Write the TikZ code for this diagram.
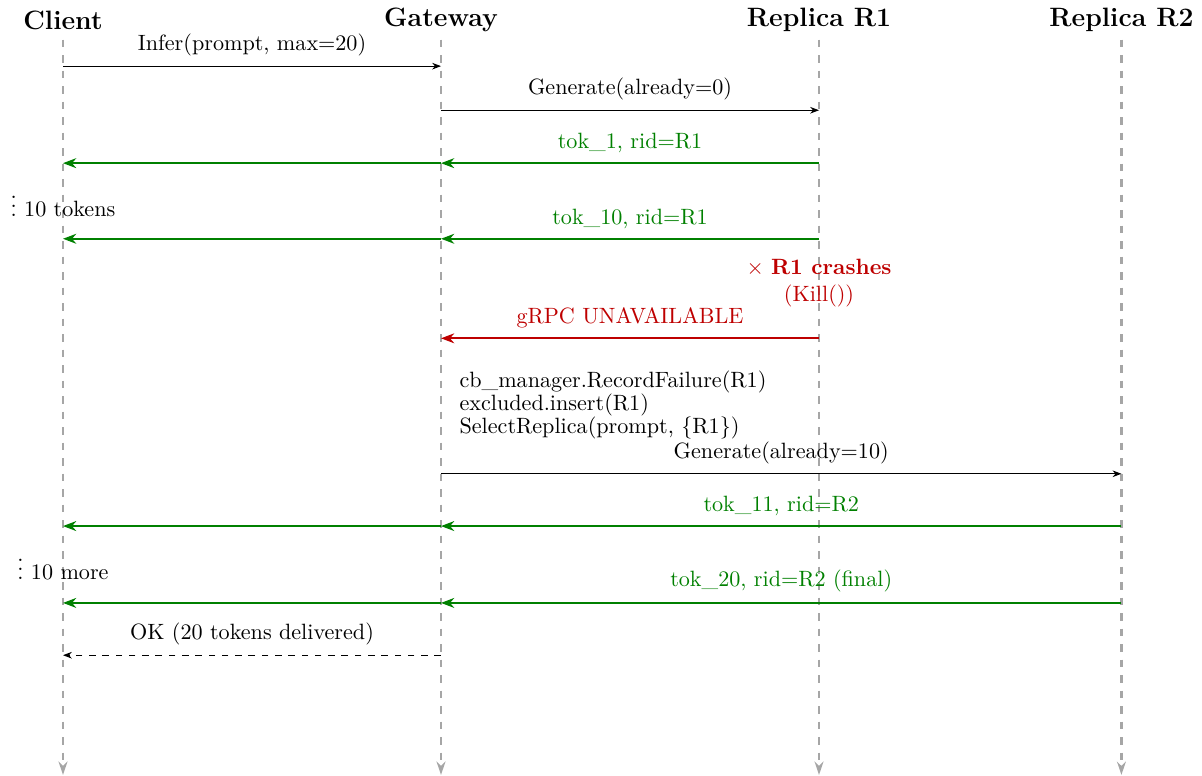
\documentclass[tikz,border=0pt]{standalone}
\usepackage{tikz}
\usepackage{xcolor}
\usetikzlibrary{arrows.meta}

\definecolor{tokgreen}{RGB}{0,128,0}
\definecolor{failred}{RGB}{190,0,0}

\tikzset{
	actor/.style={font=\large\bfseries, inner sep=0pt},
	lifeline/.style={gray!70, line width=1.2pt, dash pattern=on 3.5pt off 3.5pt, -{Stealth[length=6pt,width=4pt]}},
	msg/.style={black, -{Stealth[length=4pt,width=3pt]}},
	retmsg/.style={msg, dashed},
	tokmsg/.style={tokgreen, thick, -{Stealth[length=6pt,width=4.5pt]}},
	failmsg/.style={failred, thick, -{Stealth[length=6pt,width=4.5pt]}},
	lbl/.style={above=1pt},
	note/.style={inner sep=1pt}
}

\begin{document}
\begin{tikzpicture}
			\useasboundingbox (-1,0) rectangle (18.079,-12.317);

			% participants
			\node[actor] (cl) at (0,-0.32) {Client};
			\node[actor] (gw) at (6,-0.32) {Gateway};
			\node[actor] (r1) at (12,-0.32) {Replica R1};
			\node[actor] (r2) at (16.8,-0.32) {Replica R2};

			\coordinate (top) at (0,-0.63);
			\coordinate (bottom) at (0,-12.30);
			\foreach \p in {cl,gw,r1,r2}
				\draw[lifeline] (\p |- top) -- (\p |- bottom);

			% message rows
			\coordinate (m1) at (0,-1.05);
			\coordinate (m2) at (0,-1.75);
			\coordinate (m3) at (0,-2.59);
			\coordinate (m4) at (0,-3.79);
			\coordinate (m5) at (0,-5.37);
			\coordinate (m6) at (0,-7.52);
			\coordinate (m7) at (0,-8.35);
			\coordinate (m8) at (0,-9.57);
			\coordinate (m9) at (0,-10.40);

			\draw[msg] (cl |- m1) -- node[lbl] {Infer(prompt, max=20)} (gw |- m1);
			\draw[msg] (gw |- m2) -- node[lbl] {Generate(already=0)} (r1 |- m2);

			\draw[tokmsg] (r1 |- m3) -- node[lbl] {tok\_1, rid=R1} (gw |- m3);
			\draw[tokmsg] (gw |- m3) -- (cl |- m3);

			\node[note] (more1) at (0,-3.17) {$\vdots$ 10 tokens};

			\draw[tokmsg] (r1 |- m4) -- node[lbl] {tok\_10, rid=R1} (gw |- m4);
			\draw[tokmsg] (gw |- m4) -- (cl |- m4);

			% failure
			\node[text=failred, align=center, inner sep=0pt] (crash) at (12,-4.49)
				{$\times$ \textbf{R1 crashes}\\(Kill())};
			\draw[failmsg] (r1 |- m5) -- node[lbl, text=failred] {gRPC UNAVAILABLE} (gw |- m5);

			\node[anchor=west, align=left, font={\fontsize{10}{10.4}\selectfont}] (retry) at (6.17,-6.43)
				{cb\_manager.RecordFailure(R1)\\excluded.insert(R1)\\SelectReplica(prompt, \{R1\})};

			\draw[msg] (gw |- m6) -- node[lbl] {Generate(already=10)} (r2 |- m6);

			\draw[tokmsg] (r2 |- m7) -- node[lbl] {tok\_11, rid=R2} (gw |- m7);
			\draw[tokmsg] (gw |- m7) -- (cl |- m7);

			\node[note] (more2) at (0,-8.93) {$\vdots$ 10 more};

			\draw[tokmsg] (r2 |- m8) -- node[lbl] {tok\_20, rid=R2 (final)} (gw |- m8);
			\draw[tokmsg] (gw |- m8) -- (cl |- m8);

			\draw[retmsg] (gw |- m9) -- node[lbl] {OK (20 tokens delivered)} (cl |- m9);
		\end{tikzpicture}
\end{document}
